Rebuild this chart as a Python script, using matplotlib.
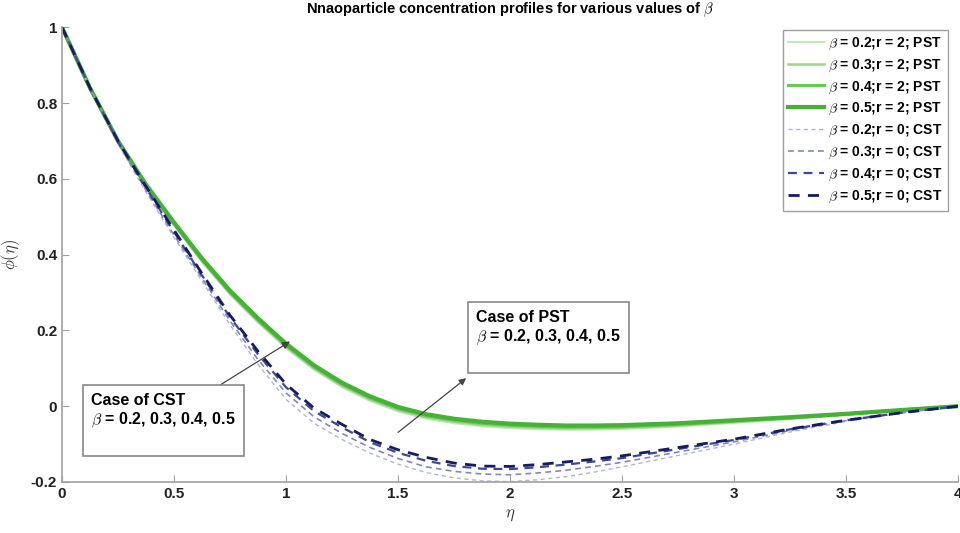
import numpy as np
import matplotlib.pyplot as plt

plt.rcParams['font.family'] = ['Liberation Sans', 'DejaVu Sans']
plt.rcParams['mathtext.fontset'] = 'cm'

# eta grid and phi(eta) profiles
eta = [0, 0.125, 0.25, 0.375, 0.5, 0.625, 0.75, 0.875, 1.0, 1.125, 1.25, 1.375,
       1.5, 1.625, 1.75, 1.875, 2.0, 2.125, 2.25, 2.375, 2.5,
       2.75, 3.0, 3.25, 3.5, 3.75, 4.0]

# PST (r = 2)
pst_b02 = [1.0, 0.838, 0.696, 0.579, 0.477, 0.380, 0.294, 0.220, 0.153, 0.096, 0.050, 0.014,
           -0.014, -0.033, -0.045, -0.053, -0.058, -0.061, -0.062, -0.062, -0.060,
           -0.054, -0.044, -0.034, -0.023, -0.011, 0]
pst_b03 = [1.0, 0.839, 0.697, 0.581, 0.480, 0.383, 0.298, 0.224, 0.157, 0.100, 0.054, 0.018,
           -0.010, -0.029, -0.041, -0.049, -0.054, -0.057, -0.059, -0.058, -0.057,
           -0.051, -0.042, -0.032, -0.022, -0.011, 0]
pst_b04 = [1.0, 0.839, 0.699, 0.583, 0.482, 0.387, 0.301, 0.228, 0.161, 0.104, 0.058, 0.022,
           -0.006, -0.025, -0.037, -0.045, -0.050, -0.053, -0.055, -0.055, -0.054,
           -0.048, -0.039, -0.031, -0.021, -0.010, 0]
pst_b05 = [1.0, 0.840, 0.700, 0.585, 0.485, 0.390, 0.305, 0.232, 0.165, 0.108, 0.062, 0.026,
           -0.002, -0.021, -0.033, -0.041, -0.046, -0.049, -0.051, -0.051, -0.050,
           -0.045, -0.037, -0.029, -0.020, -0.010, 0]

# CST (r = 0)
cst_b02 = [1.0, 0.838, 0.692, 0.565, 0.445, 0.330, 0.215, 0.110, 0.018, -0.045, -0.088, -0.124,
           -0.153, -0.175, -0.189, -0.197, -0.199, -0.194, -0.186, -0.174, -0.160,
           -0.130, -0.100, -0.068, -0.040, -0.018, 0]
cst_b03 = [1.0, 0.839, 0.695, 0.570, 0.452, 0.338, 0.225, 0.123, 0.035, -0.028, -0.072, -0.109,
           -0.138, -0.160, -0.172, -0.179, -0.181, -0.176, -0.169, -0.159, -0.148,
           -0.121, -0.094, -0.064, -0.038, -0.017, 0]
cst_b04 = [1.0, 0.840, 0.698, 0.576, 0.460, 0.345, 0.235, 0.137, 0.050, -0.013, -0.056, -0.095,
           -0.123, -0.144, -0.158, -0.165, -0.166, -0.161, -0.154, -0.146, -0.137,
           -0.113, -0.089, -0.061, -0.037, -0.017, 0]
cst_b05 = [1.0, 0.840, 0.700, 0.580, 0.465, 0.350, 0.240, 0.145, 0.058, -0.005, -0.048, -0.088,
           -0.115, -0.135, -0.150, -0.158, -0.159, -0.154, -0.147, -0.140, -0.131,
           -0.109, -0.087, -0.060, -0.037, -0.017, 0]

pst = [pst_b02, pst_b03, pst_b04, pst_b05]
cst = [cst_b02, cst_b03, cst_b04, cst_b05]
betas = ['0.2', '0.3', '0.4', '0.5']

green = ['#c4e6b8', '#9ad78a', '#6cc65a', '#45b236']
green_lw = [1.4, 1.8, 2.3, 3.0]
blue = ['#b0b6d6', '#8088bc', '#3e4894', '#151c60']
blue_lw = [1.0, 1.2, 1.6, 2.0]
dashes = [(3, 2.5), (3.5, 2.5), (4, 3), (4, 3)]

fig = plt.figure(figsize=(9.6, 5.33), dpi=100)
ax = fig.add_axes([0.0646, 0.0957, 0.9334, 0.853])

for i in range(4):
    ax.plot(eta, pst[i], color=green[i], lw=green_lw[i],
            label=r'$\beta$ = ' + betas[i] + ';r = 2; PST')
for i in range(4):
    ax.plot(eta, cst[i], color=blue[i], lw=blue_lw[i], dashes=dashes[i],
            label=r'$\beta$ = ' + betas[i] + ';r = 0; CST')

ax.set_xlim(0, 4)
ax.set_ylim(-0.2, 1)
ax.set_xticks([0, 0.5, 1, 1.5, 2, 2.5, 3, 3.5, 4])
ax.set_xticklabels(['0', '0.5', '1', '1.5', '2', '2.5', '3', '3.5', '4'])
ax.set_yticks([-0.2, 0, 0.2, 0.4, 0.6, 0.8, 1])
ax.set_yticklabels(['-0.2', '0', '0.2', '0.4', '0.6', '0.8', '1'])

for s in ['top', 'right']:
    ax.spines[s].set_visible(False)
for s in ['left', 'bottom']:
    ax.spines[s].set_color('#a0a0a0')
    ax.spines[s].set_linewidth(1.2)
ax.tick_params(direction='in', length=5, color='#a0a0a0', labelsize=11,
               labelcolor='#222222')
for lab in ax.get_xticklabels() + ax.get_yticklabels():
    lab.set_fontweight('bold')

ax.set_xlabel(r'$\eta$', fontsize=12, color='#333333', labelpad=5)
ax.set_ylabel(r'$\phi(\eta)$', fontsize=12, color='#333333', labelpad=6)
ax.set_title(r'Nnaoparticle concentration profiles for various values of $\beta$',
             fontsize=10.5, fontweight='bold', pad=10)

leg = ax.legend(loc='upper right', bbox_to_anchor=(0.997, 1.01),
                prop={'weight': 'bold', 'size': 10}, handlelength=2.6,
                handletextpad=0.3, labelspacing=0.4, borderpad=0.4,
                fancybox=False, framealpha=1)
leg.get_frame().set_edgecolor('#a0a0a0')
leg.get_frame().set_linewidth(1.0)

box = dict(boxstyle='square,pad=0.5', fc='white', ec='#888888', lw=1.2)
ax.annotate('Case of CST\n' + r'$\beta$ = 0.2, 0.3, 0.4, 0.5' + '\n ',
            xy=(1.018, 0.171), xytext=(0.13, -0.11),
            fontsize=11.5, fontweight='bold', bbox=box, va='bottom', ha='left',
            arrowprops=dict(arrowstyle='-|>', color='#444444', lw=0.9,
                            shrinkA=0, shrinkB=0, relpos=(0.8, 1.0)))
ax.annotate('Case of PST\n' + r'$\beta$ = 0.2, 0.3, 0.4, 0.5' + '\n ',
            xy=(1.804, 0.074), xytext=(1.85, 0.11),
            fontsize=11.5, fontweight='bold', bbox=box, va='bottom', ha='left',
            zorder=5)
ax.annotate('', xy=(1.804, 0.074), xytext=(1.5, -0.069),
            arrowprops=dict(arrowstyle='-|>', color='#444444', lw=0.9,
                            shrinkA=0, shrinkB=0))

plt.savefig('out.png', dpi=100)
